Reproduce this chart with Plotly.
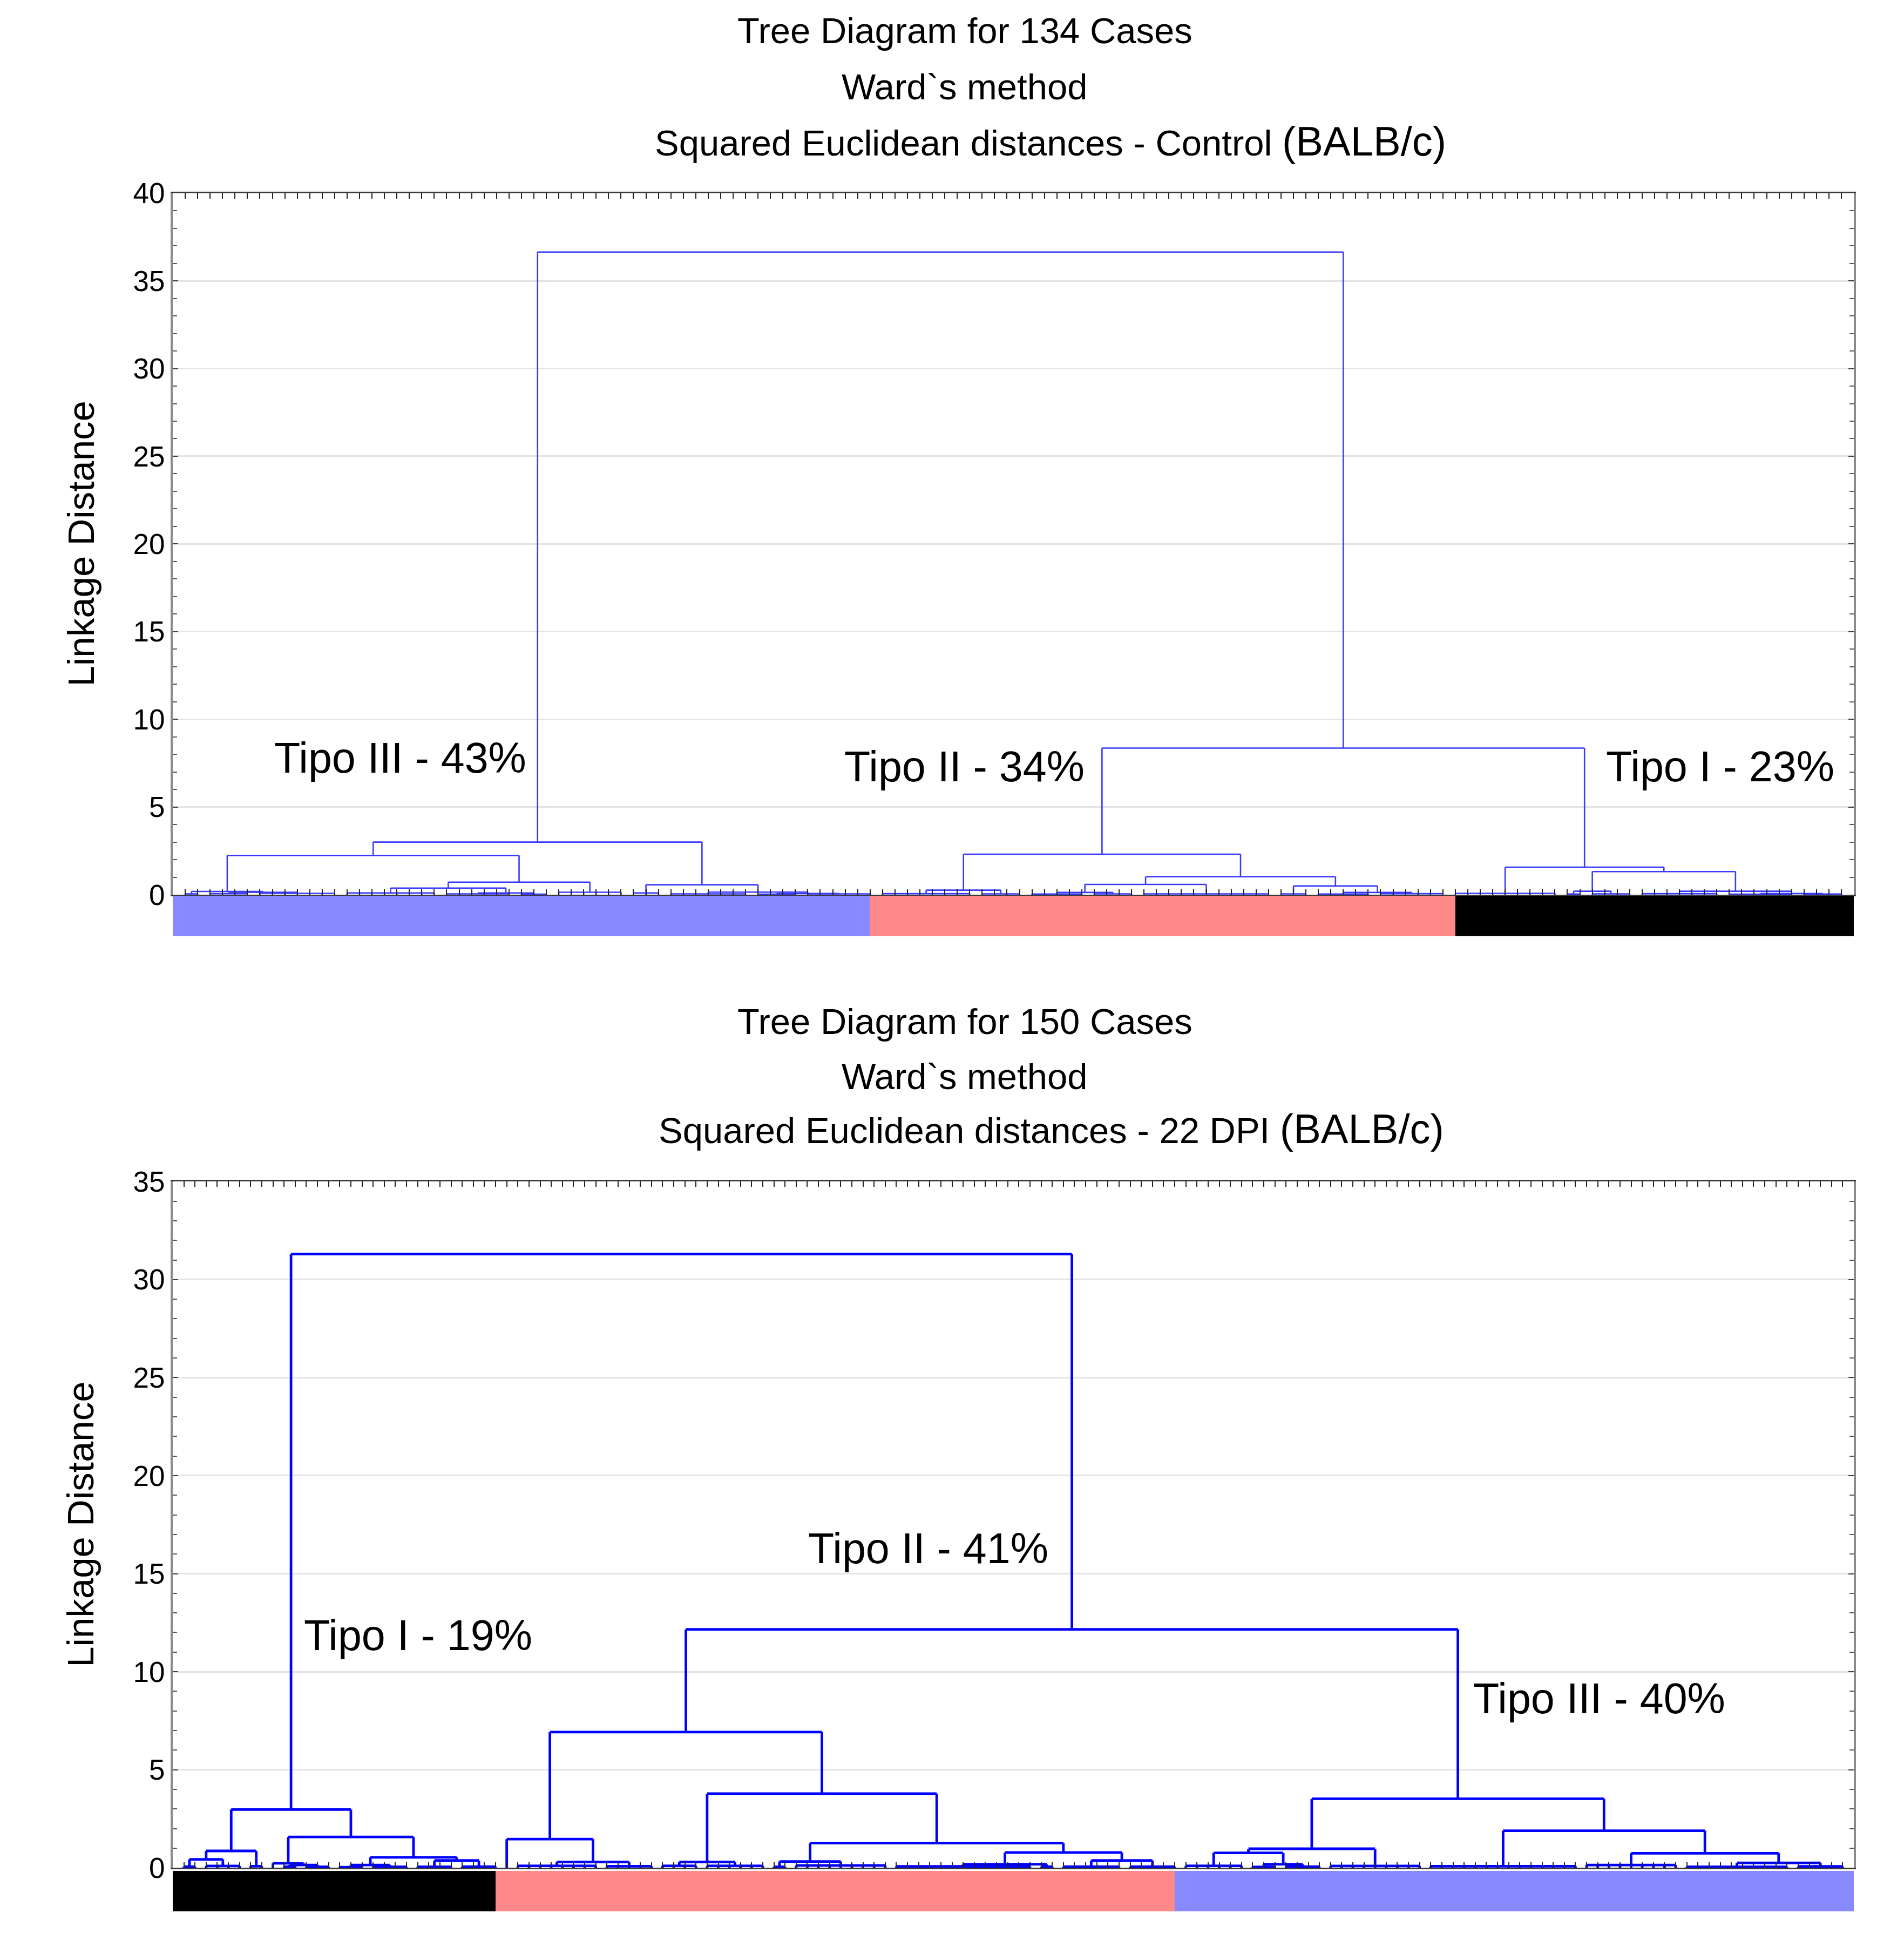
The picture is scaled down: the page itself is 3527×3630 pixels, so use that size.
import plotly.graph_objects as go

# ---------------- DATA ----------------
# Dendrogram merges: [linkage distance, child, child, ...]; an integer child = that many single cases
TOP_N_CASES = 134
TOP_TIPO_III = [3.0,
    [2.24,
        [0.19, [0.05, 2], [0.14, [0.06, 4], [0.08, 7]]],
        [0.72,
            [0.38, [0.1, 8], [0.1, [0.05, 6], [0.03, 3]]],
            [0.14, 6]]],
    [0.57,
        [0.1, 3],
        [0.15, [0.05, 7], [0.07, [0.03, 4], [0.05, 6]]]]]
TOP_TIPO_II = [2.31,
    [0.26, [0.06, 8], [0.05, 4]],
    [1.03,
        [0.59, [0.13, [0.04, 5], [0.05, 4]], [0.05, 11]],
        [0.5, [0.05, 3], [0.13, [0.04, 5], [0.06, 6]]]]]
TOP_TIPO_I = [1.57,
    [0.08, 9],
    [1.32,
        [0.2, [0.04, 2], [0.05, 4]],
        [0.2, [0.06, 7], [0.07, [0.03, 6], [0.04, 4]]]]]
TOP_JOIN_HEIGHTS = [8.36, 36.64]          # (Tipo II + Tipo I), then + Tipo III
TOP_BAR_EDGES = [0, 56, 103, 135]
TOP_BAR_COLORS = ["#8888ff", "#ff8888", "#000000"]
TOP_LABELS = ["Tipo III - 43%", "Tipo II - 34%", "Tipo I - 23%"]
TOP_TITLE = ["Tree Diagram for 134 Cases", "Ward`s method",
             "Squared Euclidean distances - Control", "(BALB/c)"]

BOT_N_CASES = 150
BOT_TIPO_I = [2.97,
    [0.86, [0.43, [0.06, 2], [0.09, 4]], [0.08, 2]],
    [1.57,
        [0.23, 1, [0.14, [0.06, 2], [0.05, 3]]],
        [0.53, [0.14, [0.03, 3], [0.05, 4]], [0.37, [0.05, 4], [0.06, 4]]]]]
BOT_TIPO_II = [6.92,
    [1.46, 1, [0.3, [0.1, 8], [0.08, 5]]],
    [3.78,
        [0.3, [0.1, 4], [0.1, 6]],
        [1.26,
            [0.32, [0.05, 2], [0.12, 9]],
            [0.78, [0.18, [0.07, 13], [0.06, 2]], [0.37, [0.06, 6], [0.06, 5]]]]]]
BOT_TIPO_III = [3.52,
    [0.97, [0.76, [0.1, 6], [0.18, [0.04, 3], [0.06, 4]]], [0.09, 9]],
    [1.89, [0.08, 14], [0.74, [0.14, 9], [0.25, [0.05, 10], [0.07, 5]]]]]
BOT_JOIN_HEIGHTS = [12.16, 31.3]          # (Tipo II + Tipo III), then + Tipo I
BOT_BAR_EDGES = [0, 29, 90, 151]
BOT_BAR_COLORS = ["#000000", "#ff8888", "#8888ff"]
BOT_LABELS = ["Tipo I - 19%", "Tipo II - 41%", "Tipo III - 40%"]
BOT_TITLE = ["Tree Diagram for 150 Cases", "Ward`s method",
             "Squared Euclidean distances - 22 DPI", "(BALB/c)"]

Y_TICKS_TOP = [0, 5, 10, 15, 20, 25, 30, 35, 40]
Y_TICKS_BOT = [0, 5, 10, 15, 20, 25, 30, 35]
Y_TITLE = "Linkage Distance"

# ---------------- LAYOUT (pixels) ----------------
W, H, OFF = 3511, 3614, 8
def px_x(X): return (X - OFF) / W
def px_y(Y): return 1 - (Y - OFF) / H

PLOT_L, PLOT_R = 320, 3434
TOP_YTOP, TOP_Y0 = 334, 1655
TOP_BAR = (1657, 1733)
BOT_YTOP, BOT_Y0 = 2195, 3487
BOT_BAR = (3493, 3569)
FONT = "Liberation Sans, Arial, sans-serif"


def build(node, state, xs, ys):
    h = node[0]
    kids = []
    for ch in node[1:]:
        if isinstance(ch, int):
            for _ in range(ch):
                state[0] += 1
                kids.append((float(state[0]), 0.0))
        else:
            kids.append(build(ch, state, xs, ys))
    for cx, ch_h in kids:
        xs += [cx, cx, None]
        ys += [ch_h, h, None]
    xs += [kids[0][0], kids[-1][0], None]
    ys += [h, h, None]
    return ((kids[0][0] + kids[-1][0]) / 2.0, h)


top_root = [TOP_JOIN_HEIGHTS[1], TOP_TIPO_III, [TOP_JOIN_HEIGHTS[0], TOP_TIPO_II, TOP_TIPO_I]]
bot_root = [BOT_JOIN_HEIGHTS[1], BOT_TIPO_I, [BOT_JOIN_HEIGHTS[0], BOT_TIPO_II, BOT_TIPO_III]]

tx, ty = [], []
build(top_root, [0], tx, ty)
bx, by = [], []
build(bot_root, [0], bx, by)

fig = go.Figure()
fig.add_trace(go.Scatter(x=tx, y=ty, mode="lines", line=dict(color="#3a3aff", width=2.6),
                         xaxis="x", yaxis="y", showlegend=False, hoverinfo="skip"))
fig.add_trace(go.Scatter(x=bx, y=by, mode="lines", line=dict(color="#0000ff", width=4.8),
                         xaxis="x2", yaxis="y3", showlegend=False, hoverinfo="skip"))
# placeholder traces for the cluster strips
fig.add_trace(go.Scatter(x=[None], y=[None], xaxis="x", yaxis="y2", showlegend=False))
fig.add_trace(go.Scatter(x=[None], y=[None], xaxis="x2", yaxis="y4", showlegend=False))


def xaxis_cfg(n, anchor):
    return dict(domain=[px_x(PLOT_L), px_x(PLOT_R)], anchor=anchor, range=[0, n + 1],
                tickvals=list(range(1, n + 1)), ticks="inside", ticklen=10, tickwidth=2,
                tickcolor="#222", showticklabels=False, showgrid=False, zeroline=False,
                showline=True, linecolor="#3a3a3a", linewidth=3, mirror="ticks", fixedrange=True)


def yaxis_cfg(ymax, dom, anchor, ticks):
    return dict(domain=dom, anchor=anchor, range=[0, ymax], tickvals=ticks,
                ticks="inside", ticklen=10, tickwidth=2, tickcolor="#444",
                showgrid=True, gridcolor="#e4e4e4", gridwidth=3, zeroline=False,
                showline=True, linecolor="#8a8a8a", linewidth=4, mirror="ticks",
                tickfont=dict(family=FONT, size=53, color="black"), ticklabelstandoff=0,
                minor=dict(dtick=1, ticks="inside", ticklen=8, tickwidth=2,
                           tickcolor="#555", showgrid=False),
                fixedrange=True)


fig.update_layout(
    width=W, height=H, margin=dict(l=0, r=0, t=0, b=0),
    paper_bgcolor="white", plot_bgcolor="white", showlegend=False,
    xaxis=xaxis_cfg(TOP_N_CASES, "y"),
    yaxis=yaxis_cfg(40, [px_y(TOP_Y0), px_y(TOP_YTOP)], "x", Y_TICKS_TOP),
    yaxis2=dict(domain=[px_y(TOP_BAR[1]), px_y(TOP_BAR[0])], anchor="x", range=[0, 1],
                visible=False, fixedrange=True),
    xaxis2=xaxis_cfg(BOT_N_CASES, "y3"),
    yaxis3=yaxis_cfg(35, [px_y(BOT_Y0), px_y(BOT_YTOP)], "x2", Y_TICKS_BOT),
    yaxis4=dict(domain=[px_y(BOT_BAR[1]), px_y(BOT_BAR[0])], anchor="x2", range=[0, 1],
                visible=False, fixedrange=True),
)

shapes = []
for edges, cols, xr, yr in [(TOP_BAR_EDGES, TOP_BAR_COLORS, "x", "y2 domain"),
                            (BOT_BAR_EDGES, BOT_BAR_COLORS, "x2", "y4 domain")]:
    for i, c in enumerate(cols):
        shapes.append(dict(type="rect", xref=xr, yref=yr, x0=edges[i], x1=edges[i + 1],
                           y0=0, y1=1, fillcolor=c, line=dict(width=0), layer="above"))
fig.update_layout(shapes=shapes)

ann = []
def title_block(lines, ys, x_center, x_left3):
    for txt, yy in zip(lines[:2], ys[:2]):
        ann.append(dict(text=txt, xref="paper", yref="paper", x=px_x(x_center), y=px_y(yy),
                        xanchor="center", yanchor="middle", showarrow=False,
                        font=dict(family=FONT, size=67, color="black")))
    ann.append(dict(text=lines[2] + " <span style='font-size:76px'>" + lines[3] + "</span>",
                    xref="paper", yref="paper", x=px_x(x_left3), y=px_y(ys[2]),
                    xanchor="left", yanchor="middle", showarrow=False,
                    font=dict(family=FONT, size=67, color="black")))

title_block(TOP_TITLE, [28, 134, 236], 1787, 1211)
title_block(BOT_TITLE, [1893, 1997, 2096], 1787, 1218)

for txt, yc in [(Y_TITLE, (TOP_YTOP + TOP_Y0) / 2), (Y_TITLE, (BOT_YTOP + BOT_Y0) / 2)]:
    ann.append(dict(text=txt, xref="paper", yref="paper", x=px_x(150), y=px_y(yc),
                    xanchor="center", yanchor="middle", textangle=-90, showarrow=False,
                    font=dict(family=FONT, size=69, color="black")))

top_label_pos = [(8.05, 7.82), (53.85, 7.32), (115.0, 7.32)]
for txt, (lx, ly) in zip(TOP_LABELS, top_label_pos):
    ann.append(dict(text=txt, xref="x", yref="y", x=lx, y=ly, xanchor="left", yanchor="middle",
                    showarrow=False, font=dict(family=FONT, size=79, color="black")))
bot_label_pos = [(11.7, 11.85), (57.0, 16.3), (116.7, 8.65)]
for txt, (lx, ly) in zip(BOT_LABELS, bot_label_pos):
    ann.append(dict(text=txt, xref="x2", yref="y3", x=lx, y=ly, xanchor="left", yanchor="middle",
                    showarrow=False, font=dict(family=FONT, size=79, color="black")))

fig.update_layout(annotations=ann)
fig.write_html("out.html")
